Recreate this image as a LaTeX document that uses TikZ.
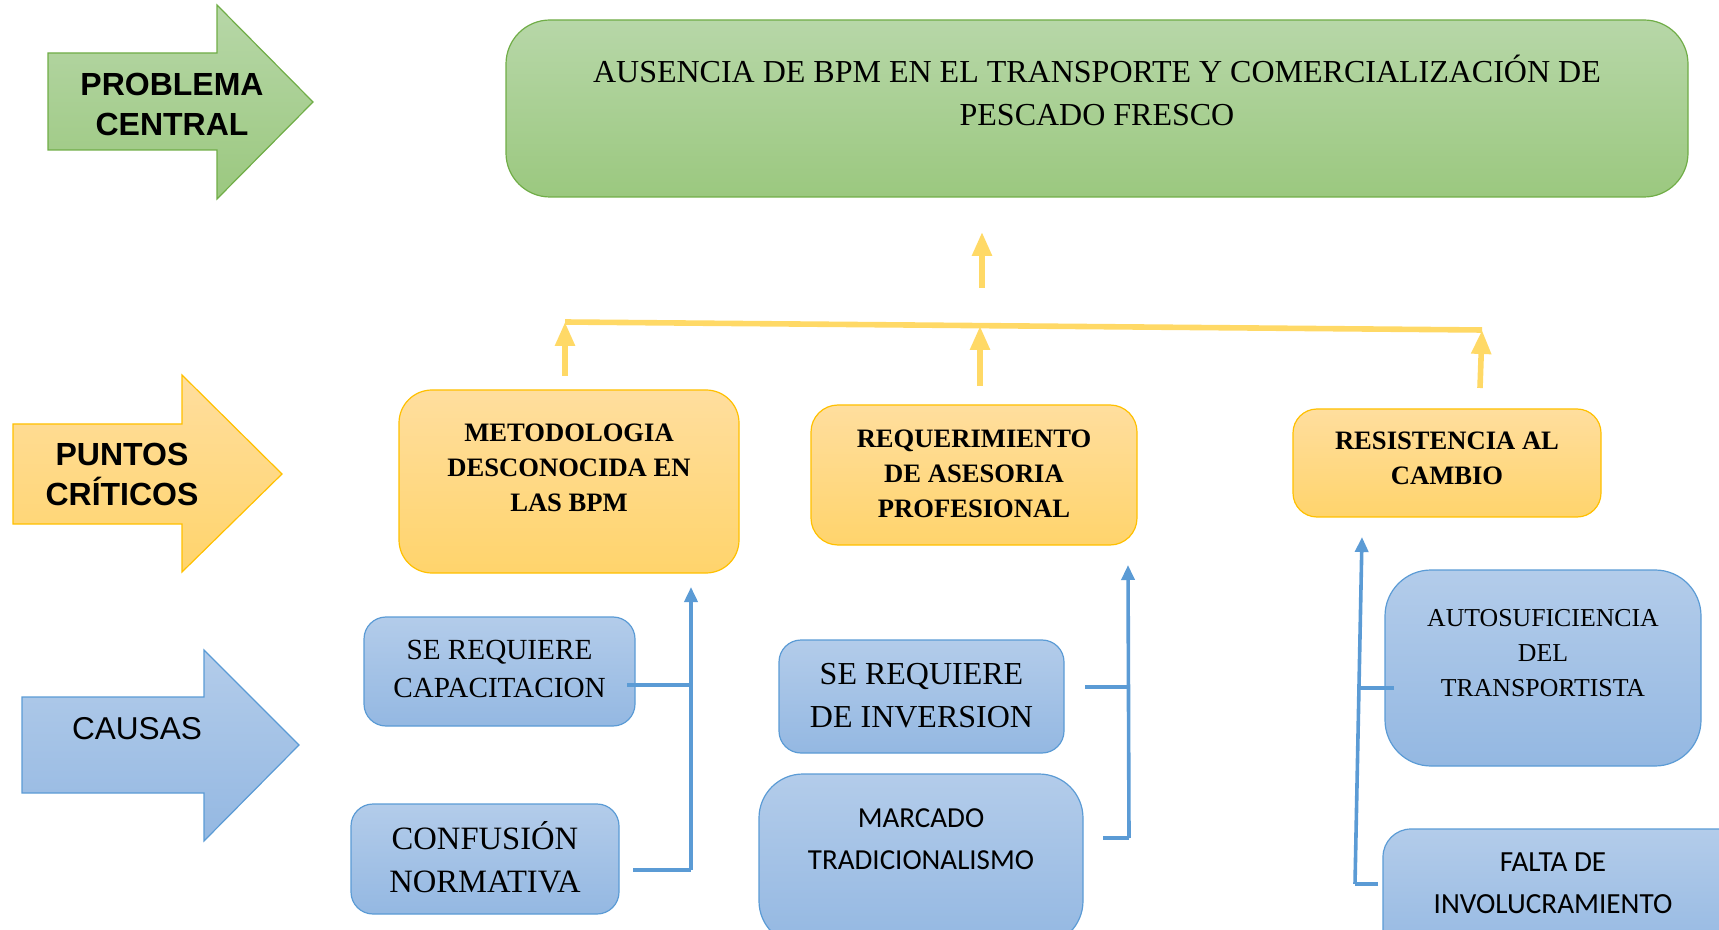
\documentclass[tikz,border=0pt]{standalone}
\usepackage{fontspec}
\setmainfont{Liberation Serif}
\newfontfamily\arialfont{Liberation Sans}
\newfontfamily\calibfont{Carlito}
\usetikzlibrary{arrows.meta,positioning}

\definecolor{probline}{HTML}{70AD47}
\definecolor{probtop}{HTML}{B7D7A8}
\definecolor{probbot}{HTML}{9BC87F}
\definecolor{critline}{HTML}{FFC000}
\definecolor{crittop}{HTML}{FFDE9E}
\definecolor{critbot}{HTML}{FFD46C}
\definecolor{causeline}{HTML}{5B9BD5}
\definecolor{causetop}{HTML}{B3CCEA}
\definecolor{causebot}{HTML}{94B8E2}
\definecolor{linkyellow}{HTML}{FFD966}

\tikzset{
  probfill/.style={draw=probline, line width=0.6pt, top color=probtop, bottom color=probbot},
  critfill/.style={draw=critline, line width=0.6pt, top color=crittop, bottom color=critbot},
  causefill/.style={draw=causeline, line width=0.6pt, top color=causetop, bottom color=causebot},
  boxnode/.style={inner sep=0pt, rounded corners=#1},
  labeltext/.style={align=center, font=\arialfont\bfseries\fontsize{16}{20}\selectfont},
  crittext/.style={align=center, font=\bfseries\fontsize{13.3}{17.5}\selectfont},
  yellowlink/.style={draw=linkyellow, line width=2.8pt},
  yellowup/.style={yellowlink, -{Triangle[length=12pt,width=9.5pt]}},
  bluelink/.style={draw=causeline, line width=1.8pt},
  blueup/.style={bluelink, -{Triangle[length=7.5pt,width=6.5pt]}}
}

\begin{document}
\begin{tikzpicture}[x=0.5pt, y=-0.5pt]
  \path[use as bounding box, clip] (0,0) rectangle (1719,930);

  % left hand arrows
  \draw[probfill] (48,53) -- (217,53) -- (217,5) -- (313,102) -- (217,199) -- (217,150) -- (48,150) -- cycle;
  \node[labeltext] (problema) at (172,104) {PROBLEMA\\CENTRAL};
  \draw[critfill] (13,424) -- (182,424) -- (182,375) -- (282,474) -- (182,572) -- (182,524) -- (13,524) -- cycle;
  \node[labeltext] (puntos) at (122,474) {PUNTOS\\CRÍTICOS};
  \draw[causefill] (22,697) -- (204,697) -- (204,650) -- (299,745) -- (204,841) -- (204,793) -- (22,793) -- cycle;
  \node[font=\arialfont\fontsize{15.8}{19}\selectfont] (causas) at (137,729) {CAUSAS};

  % central problem
  \node[probfill, boxnode=22pt, minimum width=591pt, minimum height=88.5pt] (probbox) at (1097,108.5) {};
  \node[align=center, font=\fontsize{16}{21.5}\selectfont] (prob) at (1097,90.5)
    {AUSENCIA DE BPM EN EL TRANSPORTE Y COMERCIALIZACIÓN DE\\PESCADO FRESCO};

  % critical points
  \node[critfill, boxnode=16.5pt, minimum width=170pt, minimum height=91.5pt] (metbox) at (569,481.5) {};
  \node[crittext] (met) at (569,468) {METODOLOGIA\\DESCONOCIDA EN\\LAS BPM};
  \node[critfill, boxnode=13.5pt, minimum width=163pt, minimum height=70pt] (reqbox) at (974,475) {};
  \node[crittext] (req) at (974,474) {REQUERIMIENTO\\DE ASESORIA\\PROFESIONAL};
  \node[critfill, boxnode=12pt, minimum width=154pt, minimum height=54pt] (resbox) at (1447,463) {};
  \node[crittext] (res) at (1447,458.5) {RESISTENCIA AL\\CAMBIO};

  % causes
  \node[causefill, boxnode=11pt, minimum width=135.5pt, minimum height=54.5pt] (capbox) at (499.5,671.5) {};
  \node[align=center, font=\fontsize{14.6}{19}\selectfont] (cap) at (499.5,669) {SE REQUIERE\\CAPACITACION};
  \node[causefill, boxnode=11pt, minimum width=134pt, minimum height=55pt] (confbox) at (485,859) {};
  \node[align=center, font=\fontsize{16.3}{21.5}\selectfont] (conf) at (485,857) {CONFUSIÓN\\NORMATIVA};
  \node[causefill, boxnode=11pt, minimum width=142.5pt, minimum height=56.5pt] (invbox) at (921.5,696.5) {};
  \node[align=center, font=\fontsize{16}{21.5}\selectfont] (inv) at (921.5,695.5) {SE REQUIERE\\DE INVERSION};
  \node[causefill, boxnode=22pt, minimum width=162pt, minimum height=85.5pt] (marbox) at (921,859.5) {};
  \node[align=center, font=\calibfont\fontsize{14.5}{21}\selectfont] (mar) at (921,839) {MARCADO\\TRADICIONALISMO};
  \node[causefill, boxnode=23pt, minimum width=158pt, minimum height=98pt] (autobox) at (1543,668) {};
  \node[align=center, font=\fontsize{12.9}{17.5}\selectfont] (auto) at (1543,653) {AUTOSUFICIENCIA\\DEL\\TRANSPORTISTA};
  \node[causefill, boxnode=14pt, minimum width=188.5pt, minimum height=65.5pt] (faltabox) at (1571.5,894.5) {};
  \node[align=center, font=\calibfont\fontsize{14.6}{21}\selectfont] (falta) at (1553,883.5) {FALTA DE\\INVOLUCRAMIENTO};

  % yellow links up to the problem
  \coordinate (ybl) at (565,322);
  \coordinate (ybm) at (980,326);
  \coordinate (ybr) at (1482,330);
  \coordinate (yml) at (565,376);
  \coordinate (ymm) at (980,386);
  \coordinate (ymr) at (1480,388);
  \coordinate (ytb) at (982,288);
  \coordinate (ytt) at (982,232);
  \draw[yellowlink] (ybl) -- (ybr);
  \draw[yellowup] (yml) -- (ybl);
  \draw[yellowup] (ymm) -- (ybm);
  \draw[yellowup] (ymr) -- (ybr);
  \draw[yellowup] (ytb) -- (ytt);

  % blue links from causes
  \coordinate (b1top) at (691,587);
  \coordinate (b1mid) at (691,685);
  \coordinate (b1bot) at (691,870);
  \coordinate (capend) at (627,685);
  \coordinate (confend) at (633,870);
  \draw[blueup] (b1bot) -- (b1top);
  \draw[bluelink] (capend) -- (b1mid);
  \draw[bluelink] (confend) -- (b1bot);

  \coordinate (b2top) at (1128,565);
  \coordinate (b2mid) at (1128,687);
  \coordinate (b2bot) at (1129,838);
  \coordinate (invend) at (1085,687);
  \coordinate (marend) at (1103,838);
  \draw[blueup] (b2bot) -- (b2top);
  \draw[bluelink] (invend) -- (b2mid);
  \draw[bluelink] (marend) -- (b2bot);

  \coordinate (b3top) at (1362,537);
  \coordinate (b3mid) at (1359.5,688);
  \coordinate (b3bot) at (1355,884);
  \coordinate (autoend) at (1394,688);
  \coordinate (faltaend) at (1378,884);
  \draw[blueup] (b3bot) -- (b3top);
  \draw[bluelink] (autoend) -- (b3mid);
  \draw[bluelink] (faltaend) -- (b3bot);
\end{tikzpicture}
\end{document}
